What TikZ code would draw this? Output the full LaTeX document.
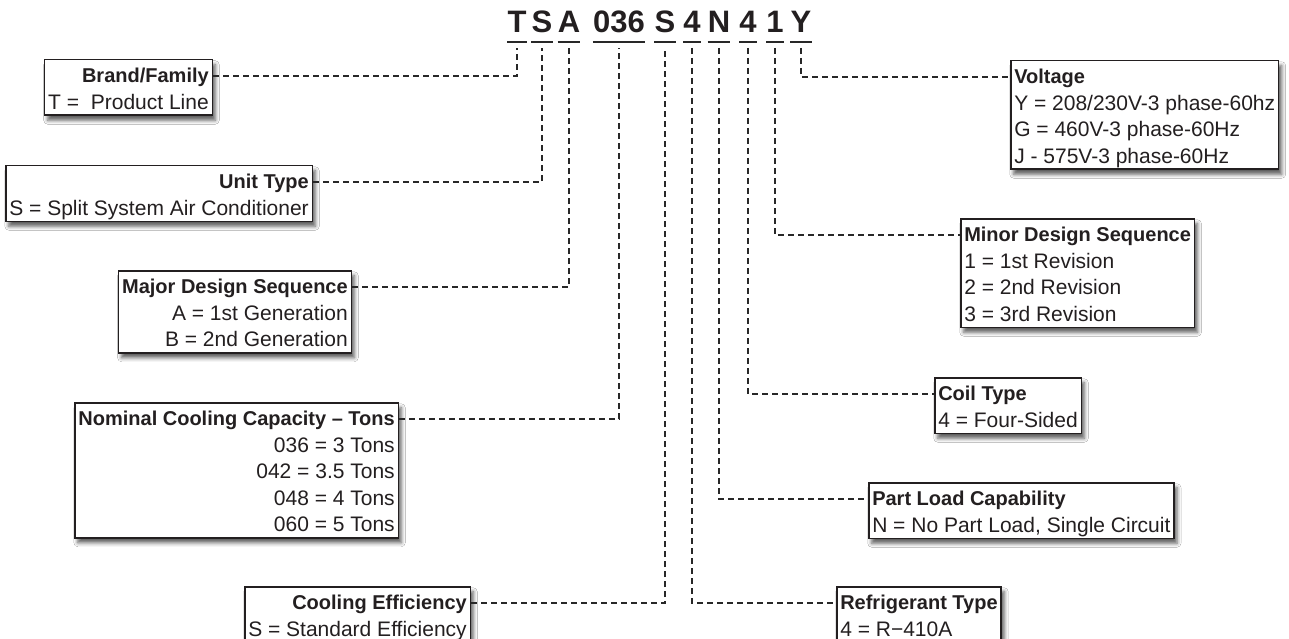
\documentclass[tikz,border=0pt]{standalone}
\usepackage{fontspec}
\setmainfont{Liberation Sans}
\usetikzlibrary{shadows.blur}
\definecolor{inkGray}{RGB}{35,31,32}
\definecolor{lineGray}{RGB}{40,40,40}
\newcommand{\botstrut}{\rule[-6pt]{0pt}{6pt}}
\newcommand{\ktitle}[1]{\rule{0pt}{23pt}{\fontsize{20}{26.5}\selectfont\bfseries #1}}

\begin{document}
\begin{tikzpicture}[x=1pt, y=-1pt,
  every node/.style={text=inkGray},
  keybox/.style={draw=inkGray, line width=1.5pt, fill=white,
    inner xsep=3.5pt, inner ysep=0pt, font=\fontsize{21}{26.5}\selectfont,
    blur shadow={shadow xshift=3pt, shadow yshift=-5pt, shadow blur radius=4pt, shadow opacity=65}},
  leftbox/.style={keybox, anchor=north east, align=right},
  rightbox/.style={keybox, anchor=north west, align=left},
  codechar/.style={anchor=base, inner sep=0pt, font=\fontsize{31}{31}\selectfont\bfseries},
  keyline/.style={draw=lineGray, line width=1.8pt, dash pattern=on 6pt off 4pt},
  codeline/.style={draw=lineGray, line width=2.2pt}]
\path[use as bounding box, fill=white] (0,0) rectangle (1289,639);

\node[codechar] (codeT) at (517,33) {T};
\node[codechar] (codeS) at (542,33) {S};
\node[codechar] (codeA) at (569,33) {A};
\node[codechar] (code036) at (619,33) {036};
\node[codechar] (codeS2) at (665,33) {S};
\node[codechar] (code4) at (692,33) {4};
\node[codechar] (codeN) at (719,33) {N};
\node[codechar] (code4b) at (748,33) {4};
\node[codechar] (code1) at (775,33) {1};
\node[codechar] (codeY) at (801,33) {Y};
\draw[codeline] ([yshift=-9pt]codeT.base west) -- ([yshift=-9pt]codeT.base east);
\draw[codeline] ([yshift=-9pt]codeS.base west) -- ([yshift=-9pt]codeS.base east);
\draw[codeline] ([yshift=-9pt]codeA.base west) -- ([yshift=-9pt]codeA.base east);
\draw[codeline] ([yshift=-9pt]code036.base west) -- ([yshift=-9pt]code036.base east);
\draw[codeline] ([yshift=-9pt]codeS2.base west) -- ([yshift=-9pt]codeS2.base east);
\draw[codeline] ([yshift=-9pt]code4.base west) -- ([yshift=-9pt]code4.base east);
\draw[codeline] ([yshift=-9pt]codeN.base west) -- ([yshift=-9pt]codeN.base east);
\draw[codeline] ([yshift=-9pt]code4b.base west) -- ([yshift=-9pt]code4b.base east);
\draw[codeline] ([yshift=-9pt]code1.base west) -- ([yshift=-9pt]code1.base east);
\draw[codeline] ([yshift=-9pt]codeY.base west) -- ([yshift=-9pt]codeY.base east);

\node[leftbox] (brand) at (213,59) {\ktitle{Brand/Family}\\T =~ Product Line\botstrut};
\node[leftbox] (unit) at (313,165) {\ktitle{Unit Type}\\S = Split System Air Conditioner\botstrut};
\node[leftbox] (major) at (352,270) {\ktitle{Major Design Sequence}\\A = 1st Generation\\B = 2nd Generation\botstrut};
\node[leftbox] (nominal) at (399,402) {\ktitle{Nominal Cooling Capacity – Tons}\\036 = 3 Tons\\042 = 3.5 Tons\\048 = 4 Tons\\060 = 5 Tons\botstrut};
\node[leftbox] (cooleff) at (471,586) {\ktitle{Cooling Efficiency}\\S = Standard Efficiency\botstrut};
\node[rightbox] (refrig) at (836,586) {\ktitle{Refrigerant Type}\\4 = R−410A\botstrut};
\node[rightbox] (partload) at (868,482) {\ktitle{Part Load Capability}\\N = No Part Load, Single Circuit\botstrut};
\node[rightbox] (coil) at (934,377) {\ktitle{Coil Type}\\4 = Four-Sided\botstrut};
\node[rightbox] (minor) at (960,218) {\ktitle{Minor Design Sequence}\\1 = 1st Revision\\2 = 2nd Revision\\3 = 3rd Revision\botstrut};
\node[rightbox] (volt) at (1010,60) {\ktitle{Voltage}\\Y = 208/230V-3 phase-60hz\\G = 460V-3 phase-60Hz\\J - 575V-3 phase-60Hz\botstrut};

\draw[keyline] ([yshift=-17pt]brand.north east) -| ([yshift=-15pt]codeT.base);
\draw[keyline] ([yshift=-17pt]unit.north east) -| ([yshift=-15pt]codeS.base);
\draw[keyline] ([yshift=-17pt]major.north east) -| ([yshift=-15pt]codeA.base);
\draw[keyline] ([yshift=-17pt]nominal.north east) -| ([yshift=-15pt]code036.base);
\draw[keyline] ([yshift=-17pt]cooleff.north east) -| ([yshift=-15pt]codeS2.base);
\draw[keyline] ([yshift=-15pt]code4.base) |- ([yshift=-17pt]refrig.north west);
\draw[keyline] ([yshift=-15pt]codeN.base) |- ([yshift=-17pt]partload.north west);
\draw[keyline] ([yshift=-15pt]code4b.base) |- ([yshift=-17pt]coil.north west);
\draw[keyline] ([yshift=-15pt]code1.base) |- ([yshift=-17pt]minor.north west);
\draw[keyline] ([yshift=-15pt]codeY.base) |- ([yshift=-17pt]volt.north west);
\end{tikzpicture}
\end{document}
